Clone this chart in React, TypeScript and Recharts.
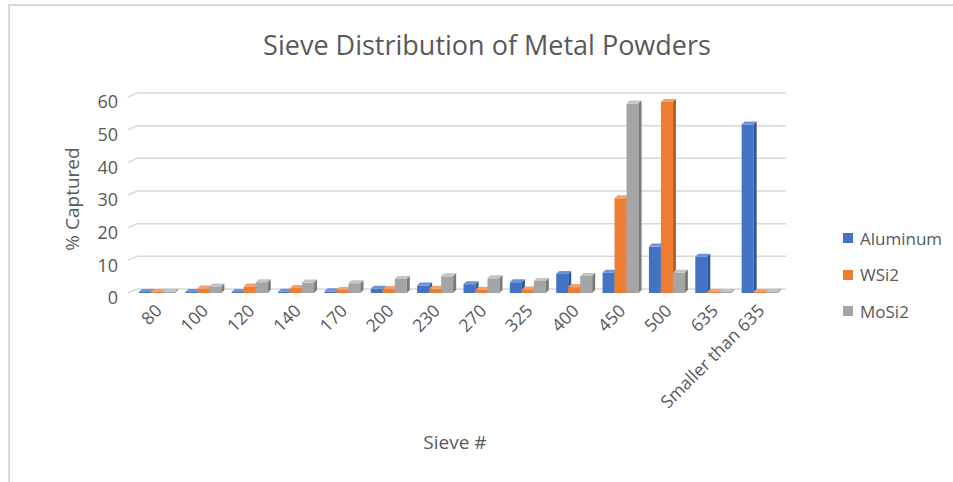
import React from "react";
import { BarChart, Bar, XAxis, YAxis, CartesianGrid } from "recharts";

const categories = ["80", "100", "120", "140", "170", "200", "230", "270", "325", "400", "450", "500", "635", "Smaller than 635"];
const aluminum = [0.2, 0.2, 0.3, 0.4, 0.5, 1.3, 2.3, 2.7, 3.3, 5.8, 6.2, 14.2, 11.1, 51.6];
const wsi2 = [0.3, 1.4, 2.0, 1.5, 0.9, 1.2, 1.3, 1.0, 1.1, 1.8, 29.0, 58.5, 0.2, 0.2];
const mosi2 = [0.4, 2.0, 3.3, 3.2, 3.0, 4.3, 5.1, 4.5, 3.7, 5.2, 58.0, 6.2, 0.3, 0.4];
const yTicks = [0, 10, 20, 30, 40, 50, 60];

const seriesInfo = [
  { key: "Aluminum", front: "#4472C4", top: "#6E93D6", side: "#2F5597" },
  { key: "WSi2", front: "#ED7D31", top: "#F4A06A", side: "#B85E1F" },
  { key: "MoSi2", front: "#A5A5A5", top: "#C4C4C4", side: "#7B7B7B" },
];

const data = categories.map((c, i) => ({
  name: c,
  Aluminum: aluminum[i],
  WSi2: wsi2[i],
  MoSi2: mosi2[i],
}));

const FONT = "'Open Sans', 'Noto Sans', sans-serif";
const TXT = "#595959";
const D = 3;

const make3D = (s: { front: string; top: string; side: string }) => (props: any) => {
  const { x, y, width, height } = props;
  if (x == null || y == null) return <g />;
  const h = Math.max(height, 1);
  const yy = y + height - h;
  return (
    <g>
      <rect x={x} y={yy} width={width} height={h} fill={s.front} />
      <polygon
        points={`${x},${yy} ${x + D},${yy - D} ${x + width + D},${yy - D} ${x + width},${yy}`}
        fill={s.top}
      />
      <polygon
        points={`${x + width},${yy} ${x + width + D},${yy - D} ${x + width + D},${yy + h - D} ${x + width},${yy + h}`}
        fill={s.side}
      />
    </g>
  );
};

const GridLine = (p: any) => {
  const { x1, x2, y1 } = p;
  return (
    <g key={p.key}>
      <line x1={x1 - 6} y1={y1} x2={x1 + 3} y2={y1 - 4} stroke="#D9D9D9" strokeWidth={1.5} />
      <line x1={x1 + 3} y1={y1 - 4} x2={x2 + 3} y2={y1 - 4} stroke="#D9D9D9" strokeWidth={1.5} />
    </g>
  );
};

const XTick = (p: any) => {
  const { x, y, payload } = p;
  return (
    <text
      x={0}
      y={0}
      transform={`translate(${x - 3},${y + 2}) rotate(-45)`}
      textAnchor="end"
      fill={TXT}
      fontSize={17.5}
      fontFamily={FONT}
      dy="0.71em"
    >
      {payload.value}
    </text>
  );
};

const YTick = (p: any) => {
  const { x, y, payload } = p;
  return (
    <text x={x - 8} y={y + 5} textAnchor="end" fill={TXT} fontSize={18} fontFamily={FONT} dy="0.355em">
      {payload.value}
    </text>
  );
};

export default function App() {
  return (
    <div style={{ position: "absolute", left: 0, top: 0, width: 953, height: 482, overflow: "hidden", background: "#fff" }}>
      <div
        style={{
          position: "absolute",
          left: 8,
          top: 4,
          width: 1000,
          height: 600,
          borderLeft: "2px solid #D9D9D9",
          borderTop: "2px solid #D9D9D9",
        }}
      />
      <div
        style={{
          position: "absolute",
          left: 487,
          top: 44,
          transform: "translate(-50%, -50%)",
          fontFamily: FONT,
          fontSize: 27,
          color: TXT,
          whiteSpace: "nowrap",
        }}
      >
        Sieve Distribution of Metal Powders
      </div>
      <div
        style={{
          position: "absolute",
          left: 72,
          top: 199,
          transform: "translate(-50%, -50%) rotate(-90deg)",
          fontFamily: FONT,
          fontSize: 19,
          color: TXT,
          whiteSpace: "nowrap",
        }}
      >
        % Captured
      </div>
      <div
        style={{
          position: "absolute",
          left: 455,
          top: 442,
          transform: "translate(-50%, -50%)",
          fontFamily: FONT,
          fontSize: 19,
          color: TXT,
          whiteSpace: "nowrap",
        }}
      >
        Sieve #
      </div>
      <div style={{ position: "absolute", left: 0, top: 0 }}>
        <BarChart
          width={953}
          height={482}
          data={data}
          margin={{ top: 97, right: 170, bottom: 89, left: 74 }}
          barGap={0}
          barSize={12}
        >
          <CartesianGrid vertical={false} horizontal={GridLine as any} />
          <XAxis
            dataKey="name"
            interval={0}
            axisLine={false}
            tickLine={false}
            height={100}
            tick={<XTick />}
          />
          <YAxis
            domain={[0, 60]}
            ticks={yTicks}
            axisLine={false}
            tickLine={false}
            width={60}
            tick={<YTick />}
          />
          {seriesInfo.map((s) => (
            <Bar key={s.key} dataKey={s.key} fill={s.front} isAnimationActive={false} shape={make3D(s)} />
          ))}
        </BarChart>
      </div>
      <div
        style={{
          position: "absolute",
          left: 843,
          top: 220,
          fontFamily: FONT,
          fontSize: 17,
          color: TXT,
        }}
      >
        {seriesInfo.map((s) => (
          <div key={s.key} style={{ display: "flex", alignItems: "center", height: 36.5 }}>
            <span style={{ width: 10, height: 10, background: s.front, display: "inline-block", marginRight: 7 }} />
            <span>{s.key}</span>
          </div>
        ))}
      </div>
    </div>
  );
}
